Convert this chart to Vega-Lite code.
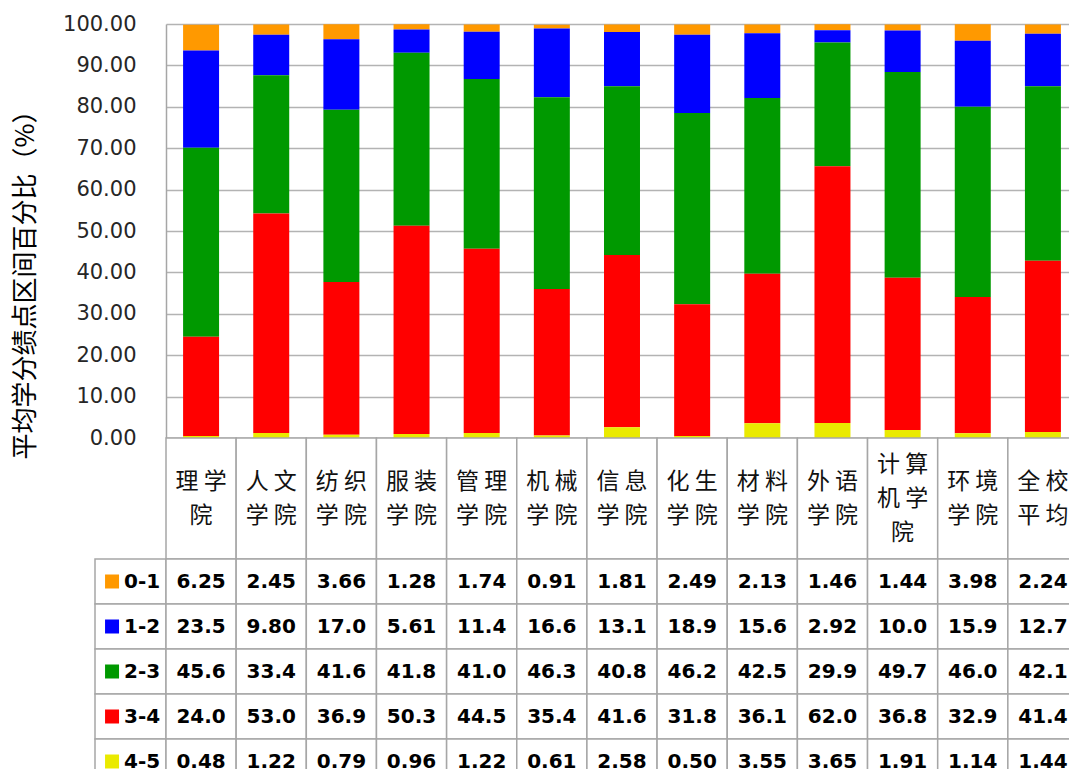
{
  "$schema": "https://vega.github.io/schema/vega-lite/v6.json",
  "background": "white",
  "padding": {"left": 12, "top": 13, "right": 0, "bottom": 0},
  "config": {"view": {"stroke": null}},
  "datasets": {
    "vals": [
      {"school": "理学院", "series": "0-1", "v": 6.25},
      {"school": "人文学院", "series": "0-1", "v": 2.45},
      {"school": "纺织学院", "series": "0-1", "v": 3.66},
      {"school": "服装学院", "series": "0-1", "v": 1.28},
      {"school": "管理学院", "series": "0-1", "v": 1.74},
      {"school": "机械学院", "series": "0-1", "v": 0.91},
      {"school": "信息学院", "series": "0-1", "v": 1.81},
      {"school": "化生学院", "series": "0-1", "v": 2.49},
      {"school": "材料学院", "series": "0-1", "v": 2.13},
      {"school": "外语学院", "series": "0-1", "v": 1.46},
      {"school": "计算机学院", "series": "0-1", "v": 1.44},
      {"school": "环境学院", "series": "0-1", "v": 3.98},
      {"school": "全校平均", "series": "0-1", "v": 2.24},
      {"school": "理学院", "series": "1-2", "v": 23.5},
      {"school": "人文学院", "series": "1-2", "v": 9.80},
      {"school": "纺织学院", "series": "1-2", "v": 17.0},
      {"school": "服装学院", "series": "1-2", "v": 5.61},
      {"school": "管理学院", "series": "1-2", "v": 11.4},
      {"school": "机械学院", "series": "1-2", "v": 16.6},
      {"school": "信息学院", "series": "1-2", "v": 13.1},
      {"school": "化生学院", "series": "1-2", "v": 18.9},
      {"school": "材料学院", "series": "1-2", "v": 15.6},
      {"school": "外语学院", "series": "1-2", "v": 2.92},
      {"school": "计算机学院", "series": "1-2", "v": 10.0},
      {"school": "环境学院", "series": "1-2", "v": 15.9},
      {"school": "全校平均", "series": "1-2", "v": 12.7},
      {"school": "理学院", "series": "2-3", "v": 45.6},
      {"school": "人文学院", "series": "2-3", "v": 33.4},
      {"school": "纺织学院", "series": "2-3", "v": 41.6},
      {"school": "服装学院", "series": "2-3", "v": 41.8},
      {"school": "管理学院", "series": "2-3", "v": 41.0},
      {"school": "机械学院", "series": "2-3", "v": 46.3},
      {"school": "信息学院", "series": "2-3", "v": 40.8},
      {"school": "化生学院", "series": "2-3", "v": 46.2},
      {"school": "材料学院", "series": "2-3", "v": 42.5},
      {"school": "外语学院", "series": "2-3", "v": 29.9},
      {"school": "计算机学院", "series": "2-3", "v": 49.7},
      {"school": "环境学院", "series": "2-3", "v": 46.0},
      {"school": "全校平均", "series": "2-3", "v": 42.1},
      {"school": "理学院", "series": "3-4", "v": 24.0},
      {"school": "人文学院", "series": "3-4", "v": 53.0},
      {"school": "纺织学院", "series": "3-4", "v": 36.9},
      {"school": "服装学院", "series": "3-4", "v": 50.3},
      {"school": "管理学院", "series": "3-4", "v": 44.5},
      {"school": "机械学院", "series": "3-4", "v": 35.4},
      {"school": "信息学院", "series": "3-4", "v": 41.6},
      {"school": "化生学院", "series": "3-4", "v": 31.8},
      {"school": "材料学院", "series": "3-4", "v": 36.1},
      {"school": "外语学院", "series": "3-4", "v": 62.0},
      {"school": "计算机学院", "series": "3-4", "v": 36.8},
      {"school": "环境学院", "series": "3-4", "v": 32.9},
      {"school": "全校平均", "series": "3-4", "v": 41.4},
      {"school": "理学院", "series": "4-5", "v": 0.48},
      {"school": "人文学院", "series": "4-5", "v": 1.22},
      {"school": "纺织学院", "series": "4-5", "v": 0.79},
      {"school": "服装学院", "series": "4-5", "v": 0.96},
      {"school": "管理学院", "series": "4-5", "v": 1.22},
      {"school": "机械学院", "series": "4-5", "v": 0.61},
      {"school": "信息学院", "series": "4-5", "v": 2.58},
      {"school": "化生学院", "series": "4-5", "v": 0.50},
      {"school": "材料学院", "series": "4-5", "v": 3.55},
      {"school": "外语学院", "series": "4-5", "v": 3.65},
      {"school": "计算机学院", "series": "4-5", "v": 1.91},
      {"school": "环境学院", "series": "4-5", "v": 1.14},
      {"school": "全校平均", "series": "4-5", "v": 1.44}
    ],
    "schools": [
      {"school": "理学院", "label": "理 学\n院"},
      {"school": "人文学院", "label": "人 文\n学 院"},
      {"school": "纺织学院", "label": "纺 织\n学 院"},
      {"school": "服装学院", "label": "服 装\n学 院"},
      {"school": "管理学院", "label": "管 理\n学 院"},
      {"school": "机械学院", "label": "机 械\n学 院"},
      {"school": "信息学院", "label": "信 息\n学 院"},
      {"school": "化生学院", "label": "化 生\n学 院"},
      {"school": "材料学院", "label": "材 料\n学 院"},
      {"school": "外语学院", "label": "外 语\n学 院"},
      {"school": "计算机学院", "label": "计 算\n机 学\n院"},
      {"school": "环境学院", "label": "环 境\n学 院"},
      {"school": "全校平均", "label": "全 校\n平 均"}
    ],
    "series": [
      {"series": "0-1"},
      {"series": "1-2"},
      {"series": "2-3"},
      {"series": "3-4"},
      {"series": "4-5"}
    ]
  },
  "columns": 2,
  "spacing": 0,
  "bounds": "flush",
  "resolve": {"scale": {"x": "independent", "y": "independent", "color": "independent"}},
  "concat": [
    {
      "width": 71, "height": 414,
      "data": {"values": []},
      "mark": "point",
      "encoding": {}
    },
    {
      "width": 912, "height": 414,
      "data": {"name": "vals"},
      "mark": {"type": "bar"},
      "encoding": {
        "x": {
          "field": "school", "type": "nominal", "sort": null,
          "scale": {"domain": ["理学院","人文学院","纺织学院","服装学院","管理学院","机械学院","信息学院","化生学院","材料学院","外语学院","计算机学院","环境学院","全校平均"], "paddingInner": 0.487, "paddingOuter": 0.2435},
          "axis": {"labels": false, "ticks": false, "title": null, "grid": false, "domainColor": "#A6A6A6", "domainWidth": 1.5}
        },
        "y": {
          "field": "v", "type": "quantitative", "stack": "zero",
          "scale": {"domain": [0, 100], "nice": false},
          "axis": {
            "values": [0, 10, 20, 30, 40, 50, 60, 70, 80, 90, 100],
            "format": ".2f",
            "title": "平均学分绩点区间百分比（%）",
            "labelFont": "DejaVu Sans", "labelFontSize": 21, "labelColor": "#262626", "labelPadding": 30,
            "ticks": false, "domainColor": "#A6A6A6", "domainWidth": 1.5,
            "gridColor": "#B3B3B3", "gridWidth": 1.5,
            "titleFont": "Noto Sans CJK SC", "titleFontSize": 26, "titleFontWeight": "normal", "titleColor": "#000000",
            "titlePadding": 24, "titleY": 254
          }
        },
        "color": {
          "field": "series", "type": "nominal",
          "scale": {"domain": ["0-1", "1-2", "2-3", "3-4", "4-5"], "range": ["#FF9900", "#0000FF", "#009900", "#FF0000", "#EAEA00"]},
          "legend": null
        },
        "order": {"field": "series", "sort": "descending"}
      }
    },
    {
      "width": 71, "height": 121,
      "data": {"values": []},
      "mark": "point",
      "encoding": {}
    },
    {
      "width": 912, "height": 121,
      "data": {"name": "schools"},
      "encoding": {
        "x": {
          "field": "school", "type": "nominal", "sort": null,
          "scale": {"domain": ["理学院","人文学院","纺织学院","服装学院","管理学院","机械学院","信息学院","化生学院","材料学院","外语学院","计算机学院","环境学院","全校平均"], "paddingInner": 0, "paddingOuter": 0},
          "axis": null
        }
      },
      "layer": [
        {"mark": {"type": "rect", "fill": "white", "stroke": "#A6A6A6", "strokeWidth": 1.5}},
        {"transform": [{"filter": "datum.school != '计算机学院'"}],
         "mark": {"type": "text", "lineBreak": "\n", "lineHeight": 34, "font": "Noto Sans CJK SC", "fontSize": 23, "color": "#111111", "baseline": "middle", "align": "center", "dy": -17},
         "encoding": {"text": {"field": "label"}}},
        {"transform": [{"filter": "datum.school == '计算机学院'"}],
         "mark": {"type": "text", "lineBreak": "\n", "lineHeight": 34, "font": "Noto Sans CJK SC", "fontSize": 23, "color": "#111111", "baseline": "middle", "align": "center", "dy": -34},
         "encoding": {"text": {"field": "label"}}}
      ]
    },
    {
      "width": 71, "height": 225,
      "data": {"name": "series"},
      "encoding": {
        "y": {
          "field": "series", "type": "nominal", "sort": null,
          "scale": {"domain": ["0-1", "1-2", "2-3", "3-4", "4-5"], "paddingInner": 0, "paddingOuter": 0},
          "axis": null
        }
      },
      "layer": [
        {"mark": {"type": "rect", "fill": "white", "stroke": "#A6A6A6", "strokeWidth": 1.5}},
        {"mark": {"type": "point", "shape": "square", "filled": true, "size": 196, "opacity": 1},
         "encoding": {
           "x": {"datum": 0.24, "type": "quantitative", "scale": {"domain": [0, 1]}, "axis": null},
           "color": {"field": "series", "type": "nominal", "scale": {"domain": ["0-1", "1-2", "2-3", "3-4", "4-5"], "range": ["#FF9900", "#0000FF", "#009900", "#FF0000", "#EAEA00"]}, "legend": null}
         }},
        {"mark": {"type": "text", "align": "left", "baseline": "middle", "font": "DejaVu Sans", "fontWeight": "bold", "fontSize": 20, "color": "#000000"},
         "encoding": {
           "x": {"datum": 0.41, "type": "quantitative", "scale": {"domain": [0, 1]}, "axis": null},
           "text": {"field": "series"}
         }}
      ]
    },
    {
      "width": 912, "height": 225,
      "data": {"name": "vals"},
      "transform": [{"calculate": "datum.v < 1 ? format(datum.v, '.2f') : format(datum.v, '.3r')", "as": "t"}],
      "encoding": {
        "x": {
          "field": "school", "type": "nominal", "sort": null,
          "scale": {"domain": ["理学院","人文学院","纺织学院","服装学院","管理学院","机械学院","信息学院","化生学院","材料学院","外语学院","计算机学院","环境学院","全校平均"], "paddingInner": 0, "paddingOuter": 0},
          "axis": null
        },
        "y": {
          "field": "series", "type": "nominal", "sort": null,
          "scale": {"domain": ["0-1", "1-2", "2-3", "3-4", "4-5"], "paddingInner": 0, "paddingOuter": 0},
          "axis": null
        }
      },
      "layer": [
        {"mark": {"type": "rect", "fill": "white", "stroke": "#A6A6A6", "strokeWidth": 1.5}},
        {"mark": {"type": "text", "baseline": "middle", "align": "center", "font": "DejaVu Sans", "fontWeight": "bold", "fontSize": 20, "color": "#000000"},
         "encoding": {"text": {"field": "t"}}}
      ]
    }
  ]
}
